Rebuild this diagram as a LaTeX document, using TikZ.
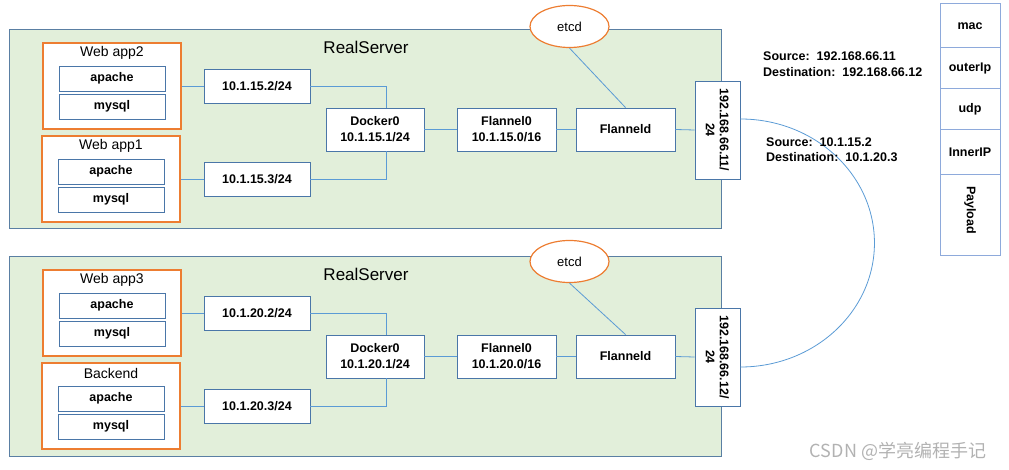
\documentclass[tikz,border=0pt]{standalone}
\usepackage{fontspec}
\setmainfont{Liberation Sans}
\newfontfamily\cjk{Noto Sans CJK SC}
\usetikzlibrary{shapes.geometric,calc}
\definecolor{srvfill}{HTML}{E2EFDA}
\definecolor{srvline}{HTML}{5A7FA3}
\definecolor{orng}{HTML}{ED7D31}
\definecolor{boxline}{HTML}{4A76A8}
\definecolor{wire}{HTML}{5B9BD5}
\definecolor{stackline}{HTML}{8EAADB}
\begin{document}
\begin{tikzpicture}[x=1pt,y=-1pt,
  server/.style={draw=srvline,fill=srvfill,line width=1pt,inner sep=0pt},
  appbox/.style={draw=orng,fill=white,line width=1.2pt,inner sep=0pt,minimum width=138pt,minimum height=86pt},
  inbox/.style={draw=boxline,fill=white,line width=0.9pt,inner sep=0pt,minimum width=106pt,minimum height=25pt,font=\fontsize{12.5}{15}\selectfont\bfseries},
  netbox/.style={draw=boxline,fill=white,line width=0.9pt,inner sep=0pt,align=center,font=\fontsize{12.5}{16}\selectfont\bfseries},
  wirestyle/.style={draw=wire,line width=0.8pt},
  stk/.style={draw=stackline,fill=white,line width=1pt,inner sep=0pt,minimum width=60pt,font=\fontsize{12.5}{15}\selectfont\bfseries},
  lbl/.style={anchor=west,inner sep=0pt,font=\fontsize{12.5}{15}\selectfont\bfseries},
  etcdnode/.style={ellipse,draw=orng,fill=white,line width=1.2pt,minimum width=79pt,minimum height=42pt,inner sep=0pt,font=\fontsize{13}{15}\selectfont},
  title/.style={inner sep=0pt,font=\fontsize{17}{19}\selectfont},
  apptitle/.style={inner sep=0pt,font=\fontsize{14}{16}\selectfont}
]
\useasboundingbox (0,0) rectangle (1009,470);

% ===== top server =====
\node[server,minimum width=712pt,minimum height=199pt] (s1) at (365,129.5) {};
\node[title] (t1) at (366,47) {RealServer};

\node[appbox] (w2) at (112,86) {};
\node[apptitle] (w2t) at (112,53) {Web app2};
\node[inbox] (w2a) at (112,78.5) {apache};
\node[inbox] (w2m) at (112,106.5) {mysql};

\node[appbox] (w1) at (111,179) {};
\node[apptitle] (w1t) at (111,146) {Web app1};
\node[inbox] (w1a) at (111,171.5) {apache};
\node[inbox] (w1m) at (111,199.5) {mysql};

\node[netbox,minimum width=106pt,minimum height=34pt] (ip1) at (257,86) {10.1.15.2/24};
\node[netbox,minimum width=106pt,minimum height=34pt] (ip2) at (257,179) {10.1.15.3/24};
\node[netbox,minimum width=98pt,minimum height=43pt] (d1) at (375,129.5) {Docker0\\10.1.15.1/24};
\node[netbox,minimum width=99pt,minimum height=43pt] (f1) at (506.5,129.5) {Flannel0\\10.1.15.0/16};
\node[netbox,minimum width=99pt,minimum height=43pt] (fd1) at (625.5,129.5) {Flanneld};
\node[netbox,minimum width=45pt,minimum height=98pt] (v1) at (717.5,130) {};
\node[rotate=-90,align=center,inner sep=0pt,font=\fontsize{12.5}{14}\selectfont\bfseries] (v1t) at (v1.center) {192.168.66.11/\\24};
\node[etcdnode] (e1) at (569.5,26.5) {etcd};

\draw[wirestyle] (w2.east) -- (ip1.west);
\draw[wirestyle] (w1.east) -- (ip2.west);
\draw[wirestyle] (ip1.east) -| ($(d1.north)+(11,0)$);
\draw[wirestyle] (ip2.east) -| ($(d1.south)+(11,0)$);
\draw[wirestyle] (d1.east) -- (f1.west);
\draw[wirestyle] (f1.east) -- (fd1.west);
\draw[wirestyle] (fd1.east) -- (v1.west);
\draw[wirestyle] (e1.south) -- (fd1.north);

% ===== bottom server =====
\node[server,minimum width=712pt,minimum height=199pt] (s2) at (365,356.5) {};
\node[title] (t2) at (366,274) {RealServer};

\node[appbox] (w3) at (112,313) {};
\node[apptitle] (w3t) at (112,280) {Web app3};
\node[inbox] (w3a) at (112,305.5) {apache};
\node[inbox] (w3m) at (112,333.5) {mysql};

\node[appbox] (bk) at (111,406) {};
\node[apptitle] (bkt) at (111,373) {Backend};
\node[inbox] (bka) at (111,398.5) {apache};
\node[inbox] (bkm) at (111,426.5) {mysql};

\node[netbox,minimum width=106pt,minimum height=34pt] (ip3) at (257,313) {10.1.20.2/24};
\node[netbox,minimum width=106pt,minimum height=34pt] (ip4) at (257,406) {10.1.20.3/24};
\node[netbox,minimum width=98pt,minimum height=43pt] (d2) at (375,356.5) {Docker0\\10.1.20.1/24};
\node[netbox,minimum width=99pt,minimum height=43pt] (f2) at (506.5,356.5) {Flannel0\\10.1.20.0/16};
\node[netbox,minimum width=99pt,minimum height=43pt] (fd2) at (625.5,356.5) {Flanneld};
\node[netbox,minimum width=45pt,minimum height=98pt] (v2) at (717.5,357) {};
\node[rotate=-90,align=center,inner sep=0pt,font=\fontsize{12.5}{14}\selectfont\bfseries] (v2t) at (v2.center) {192.168.66.12/\\24};
\node[etcdnode] (e2) at (569.5,261.5) {etcd};

\draw[wirestyle] (w3.east) -- (ip3.west);
\draw[wirestyle] (bk.east) -- (ip4.west);
\draw[wirestyle] (ip3.east) -| ($(d2.north)+(11,0)$);
\draw[wirestyle] (ip4.east) -| ($(d2.south)+(11,0)$);
\draw[wirestyle] (d2.east) -- (f2.west);
\draw[wirestyle] (f2.east) -- (fd2.west);
\draw[wirestyle] (fd2.east) -- (v2.west);
\draw[wirestyle] (e2.south) -- (fd2.north);

% ===== connecting arc =====
\coordinate (a1) at ($(v1.east)+(0,-11)$);
\draw[wirestyle] (a1) arc[start angle=90,end angle=-90,x radius=134pt,y radius=124pt];

% ===== labels =====
\node[lbl] (src1) at (763,56) {Source:\ \ 192.168.66.11};
\node[lbl] (dst1) at (763,72) {Destination:\ \ 192.168.66.12};
\node[lbl] (src2) at (766,142) {Source:\ \ 10.1.15.2};
\node[lbl] (dst2) at (766,157) {Destination:\ \ 10.1.20.3};

% ===== packet stack =====
\node[stk,minimum height=44pt] (mac) at (970,26) {mac};
\node[stk,minimum height=41pt] (oip) at (970,68.5) {outerIp};
\node[stk,minimum height=41pt] (udp) at (970,109.5) {udp};
\node[stk,minimum height=45pt] (iip) at (970,152.5) {InnerIP};
\node[stk,minimum height=81pt] (pl) at (970,215.5) {};
\node[rotate=-90,inner sep=0pt,font=\fontsize{12.5}{15}\selectfont\bfseries] (plt) at (970,210) {Payload};

% ===== watermark =====
\node[inner sep=0pt,text=black!30,font=\cjk\fontsize{18}{20}\selectfont] (wm) at (898,451) {CSDN @学亮编程手记};
\end{tikzpicture}
\end{document}
